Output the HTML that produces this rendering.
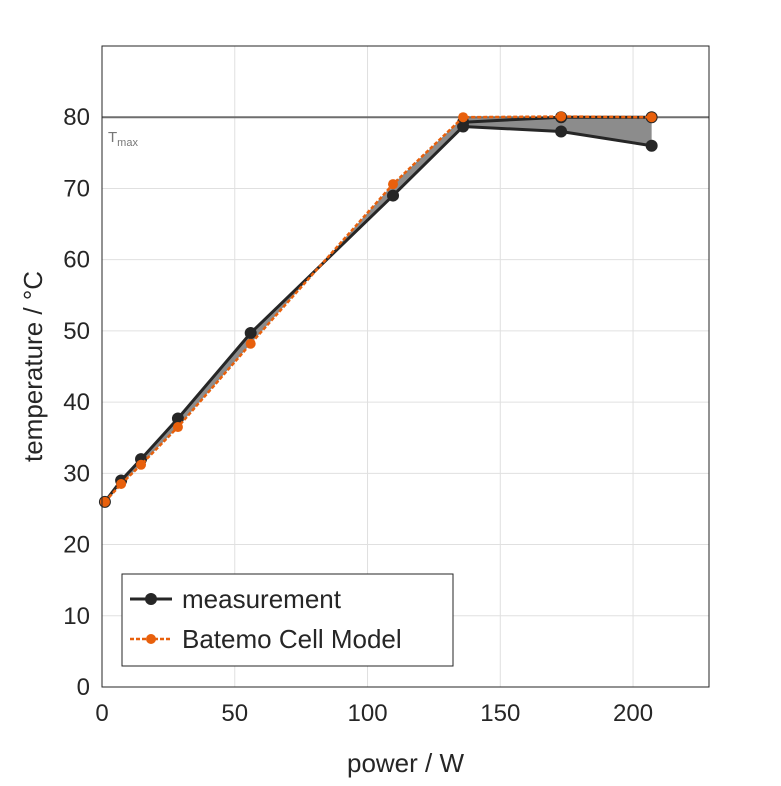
<!DOCTYPE html>
<html><head><meta charset="utf-8"><style>
body{margin:0;background:#fff;}
svg text{font-family:"Liberation Sans",sans-serif;fill:#262626;}
</style></head><body>
<svg id="c" width="781" height="781" xmlns="http://www.w3.org/2000/svg"></svg>
<script>
const xMeas=[1.1,7.2,14.7,28.6,56,109.6,136,172.9,207];
const yMeas=[26,29,32,37.7,49.7,69,78.7,78,76];
const xMeasHi=[136,172.9,207];
const yMeasHi=[79.3,80,80];
const xModel=[1.1,7.2,14.7,28.6,56,109.6,136,172.9,207];
const yModel=[26,28.5,31.2,36.5,48.2,70.6,80,80.1,80];
const xTicks=[0,50,100,150,200];
const yTicks=[0,10,20,30,40,50,60,70,80];
const tmax=80;
const L=102,R=709,T=46,B=687,XMAX=228.6,YMAX=90;
const X=v=>L+v/XMAX*(R-L), Y=v=>B-v/YMAX*(B-T);
const svg=document.getElementById('c');
function el(t,a,p){const e=document.createElementNS('http://www.w3.org/2000/svg',t);for(const k in a)e.setAttribute(k,a[k]);(p||svg).appendChild(e);return e;}
el('rect',{x:L,y:T,width:R-L,height:B-T,fill:'#fff'});
xTicks.forEach(v=>{const g=el('line',{x1:X(v),x2:X(v),y1:T,y2:B,stroke:'#e0e0e0'});


const t=el('text',{x:X(v),y:B+34,'text-anchor':'middle','font-size':24});t.textContent=v;

});
yTicks.forEach(v=>{const g=el('line',{x1:L,x2:R,y1:Y(v),y2:Y(v),stroke:'#e0e0e0'});


const t=el('text',{x:L-12,y:Y(v)+8,'text-anchor':'end','font-size':24});t.textContent=v;

});
// fill between
let pts=xMeas.map((x,i)=>X(x)+','+Y(yMeas[i]));
pts=pts.concat(xModel.slice().reverse().map((x,i)=>X(x)+','+Y(yModel[yModel.length-1-i])));
const f=el('polygon',{points:pts.join(' '),fill:'#8c8c8c'});


const tl=el('line',{x1:L,x2:R,y1:Y(tmax),y2:Y(tmax),stroke:'#6e6e6e','stroke-width':2});


const tt=el('text',{x:L+6,y:Y(tmax)+25,'font-size':15,style:'fill:#777'});tt.innerHTML='T<tspan font-size="11" dy="4">max</tspan>';


function series(xs,ys,col,w,dash,r,name){
 const p=el('polyline',{points:xs.map((x,i)=>X(x)+','+Y(ys[i])).join(' '),fill:'none',stroke:col,'stroke-width':w,'stroke-dasharray':dash||'none'});
 
 
 xs.forEach((x,i)=>{const c=el('circle',{cx:X(x),cy:Y(ys[i]),r:r,fill:col});
 
 });
}
series(xMeasHi,yMeasHi,'#262626',3,null,6,'measurement-upper');
series(xMeas,yMeas,'#262626',3,null,6,'measurement');
series(xModel,yModel,'#e8600c',2.5,'4 2',5,'model');
el('rect',{x:L,y:T,width:R-L,height:B-T,fill:'none',stroke:'#262626','stroke-width':1});
const xl=el('text',{x:(L+R)/2,y:772,'text-anchor':'middle','font-size':26});xl.textContent='power / W';


const yl=el('text',{x:0,y:0,'text-anchor':'middle','font-size':26,transform:'translate(42,'+((T+B)/2)+') rotate(-90)'});yl.textContent='temperature / °C';


const lg=el('g',{});


el('rect',{x:122,y:574,width:331,height:92,fill:'#fff',stroke:'#262626'},lg);
el('line',{x1:130,x2:172,y1:599,y2:599,stroke:'#262626','stroke-width':3},lg);
el('circle',{cx:151,cy:599,r:6,fill:'#262626'},lg);
const t1=el('text',{x:182,y:608,'font-size':26},lg);t1.textContent='measurement';


el('line',{x1:130,x2:172,y1:639,y2:639,stroke:'#e8600c','stroke-width':2.5,'stroke-dasharray':'4 2'},lg);
el('circle',{cx:151,cy:639,r:5,fill:'#e8600c'},lg);
const t2=el('text',{x:182,y:648,'font-size':26},lg);t2.textContent='Batemo Cell Model';


</script>
</body></html>
